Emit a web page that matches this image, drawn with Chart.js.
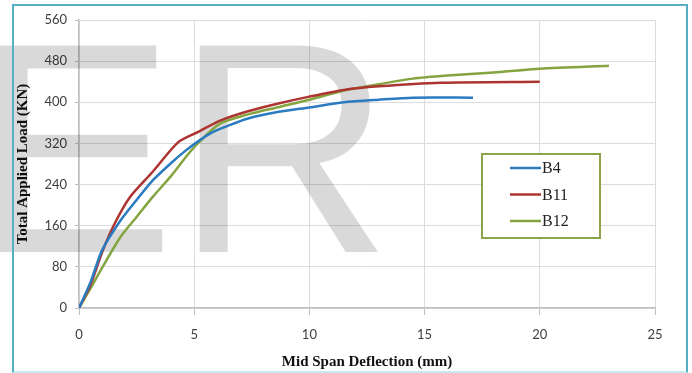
<!DOCTYPE html>
<html>
<head>
<meta charset="utf-8">
<script src="https://cdn.jsdelivr.net/npm/chart.js@4/dist/chart.umd.min.js"></script>
<style>
  html, body { margin: 0; padding: 0; background: #fff; overflow: hidden; }
  #wrap { position: relative; width: 692px; height: 373px; }
  #chartCanvas { position: absolute; left: 0; top: 0; }
  #frame {
    position: absolute; left: 12px; top: 4px; width: 672px; height: 365px;
    border: 2px solid #55afc5; border-bottom-color: #c6e9f1; pointer-events: none;
  }
</style>
</head>
<body>
<div id="wrap">
  <canvas id="chartCanvas" width="692" height="373"></canvas>
  <div id="frame"></div>
</div>
<script>
// ---- data ----
var seriesNames = ["B4", "B11", "B12"];
var seriesColors = ["#2a7bc0", "#ad3531", "#84a43f"];

var b4Deflection = [0, 0.5, 1, 1.8, 2.5, 3.2, 4, 4.6, 5.2, 5.8, 6.5, 7.3, 8.5, 10, 11.5, 13, 14.5, 17.1];
var b4Load       = [0, 50, 112, 170, 210, 248, 282, 305, 325, 342, 355, 368, 380, 390, 400, 405, 409, 409];

var b11Deflection = [0, 0.5, 1, 1.5, 2.2, 3.2, 4.3, 5.2, 6.1, 7.3, 8.7, 10, 11.5, 13, 15.7, 20];
var b11Load       = [0, 45, 108, 160, 215, 265, 322, 343, 364, 382, 398, 411, 424, 431, 438, 440];

var b12Deflection = [0, 0.5, 1, 1.8, 2.5, 3.2, 4, 4.7, 5.2, 6.1, 7.3, 8.7, 10, 11.6, 13, 14.5, 16, 18, 20, 23];
var b12Load       = [0, 38, 78, 138, 177, 216, 257, 297, 322, 358, 376, 391, 405, 424, 435, 446, 452, 458, 465, 471];

var xTicks = [0, 5, 10, 15, 20, 25];
var yTicks = [0, 80, 160, 240, 320, 400, 480, 560];

function toPoints(xs, ys) {
  return xs.map(function (x, i) { return { x: x, y: ys[i] }; });
}

var allX = [b4Deflection, b11Deflection, b12Deflection];
var allY = [b4Load, b11Load, b12Load];

var datasets = seriesNames.map(function (name, i) {
  return {
    label: name,
    data: toPoints(allX[i], allY[i]),
    borderColor: seriesColors[i],
    backgroundColor: seriesColors[i],
    borderWidth: 2.5,
    pointRadius: 0,
    showLine: true,
    tension: 0.25,
    fill: false
  };
});

// grey "ER" stamp behind the lines
var watermark = {
  id: "watermark",
  beforeDatasetsDraw: function (chart) {
    var ctx = chart.ctx;
    ctx.save();
    ctx.fillStyle = "rgba(0,0,0,0.15)";
    ctx.font = '300px "Liberation Sans", Arial, sans-serif';
    ctx.textBaseline = "alphabetic";
    ctx.fillText("ER", -25, 252);
    ctx.restore();
  }
};

// boxed legend inside the plot
var boxLegend = {
  id: "boxLegend",
  afterDatasetsDraw: function (chart) {
    var ctx = chart.ctx;
    var bx = 482, by = 154, bw = 118, bh = 84;
    ctx.save();
    ctx.fillStyle = "#fff";
    ctx.fillRect(bx, by, bw, bh);
    ctx.strokeStyle = "#8ca44b";
    ctx.lineWidth = 2;
    ctx.strokeRect(bx, by, bw, bh);
    ctx.font = '16px "Liberation Serif", "Times New Roman", serif';
    ctx.textBaseline = "middle";
    chart.data.datasets.forEach(function (ds, i) {
      var y = 168 + i * 26.5;
      ctx.strokeStyle = ds.borderColor;
      ctx.lineWidth = 2.5;
      ctx.beginPath();
      ctx.moveTo(510, y);
      ctx.lineTo(541, y);
      ctx.stroke();
      ctx.fillStyle = "#222";
      ctx.fillText(ds.label, 542, y + 1);
    });
    ctx.restore();
  }
};

var tickFont = { family: "Lato, 'Open Sans', sans-serif", size: 13 };
var titleFont = { family: "'Liberation Serif', 'Times New Roman', serif", size: 15, weight: "bold" };

new Chart(document.getElementById("chartCanvas").getContext("2d"), {
  type: "scatter",
  data: { datasets: datasets },
  options: {
    responsive: false,
    animation: false,
    layout: { padding: { top: 20, right: 37, left: 0, bottom: 0 } },
    plugins: {
      legend: { display: false },
      tooltip: { enabled: false }
    },
    scales: {
      x: {
        type: "linear",
        min: 0,
        max: 25,
        afterBuildTicks: function (scale) {
          scale.ticks = xTicks.map(function (v) { return { value: v }; });
        },
        afterFit: function (scale) { scale.height = 65; },
        grid: { color: "#dcdcdc", tickColor: "#bfbfbf", tickLength: 7 },
        border: { color: "#bfbfbf", width: 1.5 },
        ticks: { font: tickFont, color: "#404040", padding: 12, maxRotation: 0 },
        title: {
          display: true,
          text: "Mid Span Deflection (mm)",
          font: titleFont,
          color: "#111",
          padding: { top: 0, bottom: 2 }
        }
      },
      y: {
        type: "linear",
        min: 0,
        max: 560,
        afterBuildTicks: function (scale) {
          scale.ticks = yTicks.map(function (v) { return { value: v }; });
        },
        afterFit: function (scale) { scale.width = 79; },
        grid: { color: "#dcdcdc", tickColor: "#bfbfbf", tickLength: 4 },
        border: { color: "#bfbfbf", width: 1.5 },
        ticks: { font: tickFont, color: "#404040", padding: 8 },
        title: {
          display: true,
          text: "Total Applied Load (KN)",
          font: titleFont,
          color: "#111",
          padding: { top: 14, bottom: 0 }
        }
      }
    }
  },
  plugins: [watermark, boxLegend]
});
</script>
</body>
</html>
